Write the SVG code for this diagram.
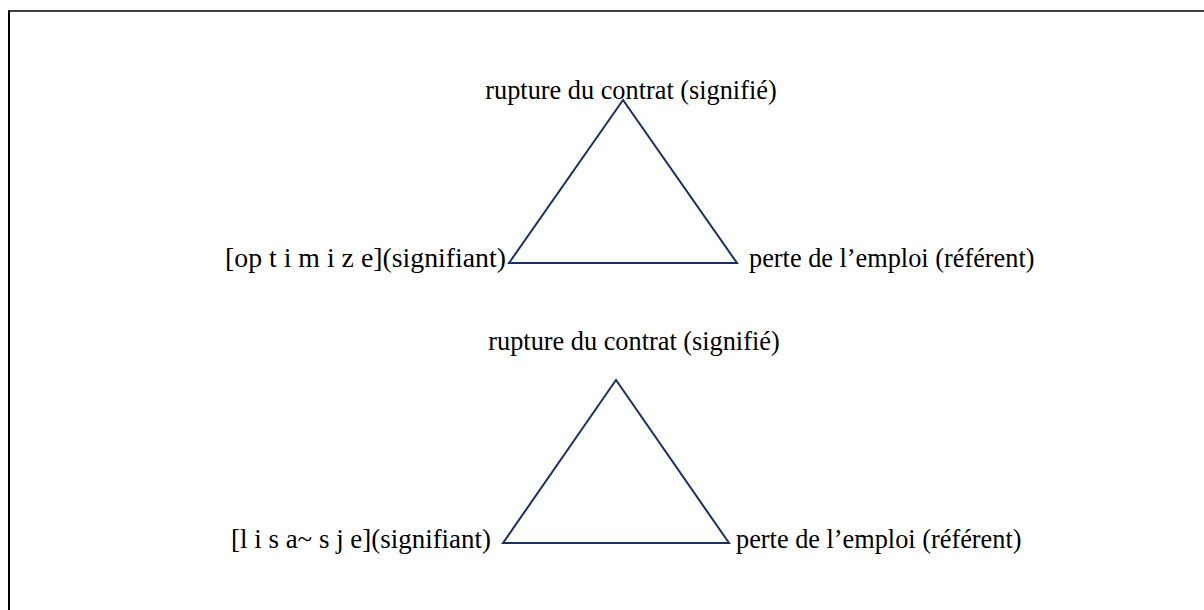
<svg xmlns="http://www.w3.org/2000/svg" width="1204" height="610" viewBox="0 0 1204 610">
<style>
.lbl{font-family:"Liberation Serif","Times New Roman",serif;font-size:26.3px;fill:#000}
.tri{fill:none;stroke:#1b2f63;stroke-width:2;stroke-linejoin:miter}
</style>
<rect x="0" y="0" width="1204" height="610" fill="#fff"/>
<g id="frame">
<line x1="8" y1="11" x2="1204" y2="11" stroke="#000" stroke-width="1.5"/>
<line x1="9" y1="10.5" x2="9" y2="610" stroke="#000" stroke-width="2"/>
</g>
<g id="connectors">
<polygon class="tri" points="623,100 509,263 737,263"/>
<polygon class="tri" points="616,380 503,543 729,543"/>
</g>
<g id="node-top-signifie"><text class="lbl" x="631" y="99" text-anchor="middle">rupture du contrat (signifié)</text></g>
<g id="node-top-signifiant"><text class="lbl" x="225" y="267" textLength="281" lengthAdjust="spacingAndGlyphs">[op t i m i z e](signifiant)</text></g>
<g id="node-top-referent"><text class="lbl" x="749" y="267">perte de l’emploi (référent)</text></g>
<g id="node-bot-signifie"><text class="lbl" x="634" y="350" text-anchor="middle">rupture du contrat (signifié)</text></g>
<g id="node-bot-signifiant"><text class="lbl" x="231" y="548" textLength="260" lengthAdjust="spacingAndGlyphs">[l i s a~ s j e](signifiant)</text></g>
<g id="node-bot-referent"><text class="lbl" x="736" y="548">perte de l’emploi (référent)</text></g>
</svg>
